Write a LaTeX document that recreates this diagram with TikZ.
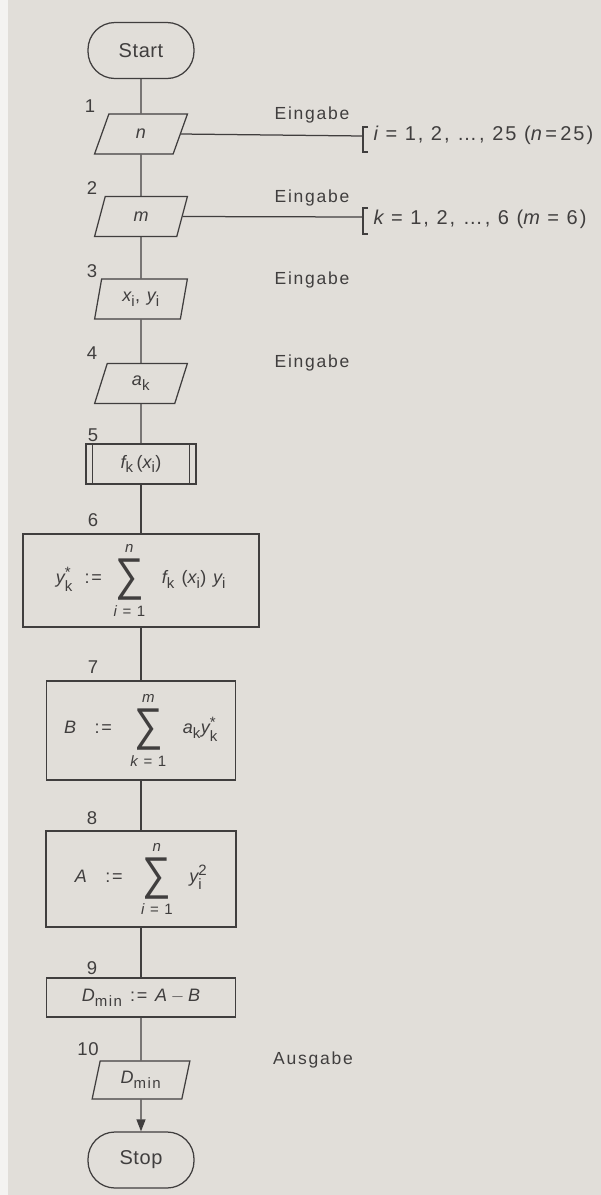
\documentclass[tikz,border=0pt]{standalone}
\usepackage{amsmath}
\usepackage{graphicx}
\usepackage{fontspec}
\setmainfont{Liberation Sans}[LetterSpace=10]
\newfontfamily\tightfont{Liberation Sans}[LetterSpace=3]
\newfontfamily\sigmafont{Liberation Sans}
\usetikzlibrary{shapes.geometric,arrows.meta}
\DeclareMathSizes{18}{18}{15}{12}

\definecolor{paper}{RGB}{225,222,217}
\definecolor{margin}{RGB}{244,243,241}
\definecolor{ink}{RGB}{64,62,62}

% italic variable, upright index, large summation sign with room for its limits
\newcommand\vv[1]{\text{\itshape #1}}
\newcommand\up[1]{\text{#1}}
\newcommand\bigsum{\mathop{\vcenter{\hbox{\raisebox{0pt}[\dimexpr\height+3pt\relax][\dimexpr\depth+2pt\relax]{%
  \scalebox{1}[1.15]{\sigmafont\fontsize{40}{40}\selectfont ∑}}}}}\limits}

\tikzset{
  base/.style={font=\fontsize{18}{22}\selectfont, text=ink},
  terminal/.style={base, draw=ink, line width=1.25pt, rectangle, rounded corners=27pt,
    minimum width=106pt, minimum height=56pt, inner sep=0pt,
    font=\tightfont\fontsize{20}{24}\selectfont},
  iobox/.style={base, draw=ink, line width=1.25pt, trapezium, trapezium left angle=77,
    trapezium right angle=103, trapezium stretches=true,
    minimum width=93pt, minimum height=40pt, inner sep=0pt},
  procbox/.style={base, draw=ink, line width=1.25pt, rectangle, inner sep=0pt},
  stepno/.style={base, font=\tightfont\fontsize{18.5}{22}\selectfont},
  remark/.style={base, font=\fontsize{17.5}{21}\selectfont},
  flow/.style={draw=ink, line width=1.25pt},
}

\begin{document}
\begin{tikzpicture}[x=1pt,y=-1pt]
\useasboundingbox (0,0) rectangle (601,1195);
\fill[paper] (0,0) rectangle (601,1195);
\fill[margin] (0,0) rectangle (8,1195);

% flowchart boxes
\node[terminal] (start) at (141,50.5) {Start};
\node[iobox] (n1) at (141,134) {$\vv{n}$};
\node[iobox] (n2) at (141,216.5) {$\vv{m}$};
\node[iobox] (n3) at (141,299) {$\vv{x}_{\up{i}}\text{, }\vv{y}_{\up{i}}$};
\node[iobox] (n4) at (141,383.5) {$\vv{a}_{\up{k}}$};
\node[procbox, minimum width=110pt, minimum height=40pt] (n5) at (141,464)
  {$\vv{f}_{\up{k}}\,\text{(}\vv{x}_{\up{i}}\text{)}$};
\node[procbox, minimum width=236pt, minimum height=93pt] (n6) at (141,580.5)
  {$\vv{y}^{\text{*}}_{\up{k}}\ \mathrel{\text{:=}}\ \bigsum^{\vv{n}}_{\text{\itshape i\upshape\ = 1}}
   \ \ \vv{f}_{\up{k}}\ \text{(}\vv{x}_{\up{i}}\text{)}\ \vv{y}_{\up{i}}$};
\node[procbox, minimum width=189pt, minimum height=99pt] (n7) at (141,730.5)
  {$\vv{B}\ \ \mathrel{\text{:=}}\ \ \bigsum^{\vv{m}}_{\text{\itshape k\upshape\ = 1}}
   \ \ \vv{a}_{\up{k}}\vv{y}^{\text{*}}_{\up{k}}$};
\node[procbox, minimum width=190pt, minimum height=96pt] (n8) at (141,879)
  {$\vv{A}\ \ \mathrel{\text{:=}}\ \ \bigsum^{\vv{n}}_{\text{\itshape i\upshape\ = 1}}
   \ \ \vv{y}^{\text{2}}_{\up{i}}$};
\node[procbox, minimum width=189pt, minimum height=39pt] (n9) at (141,997.5)
  {$\vv{D}_{\up{min}}\,\mathrel{\text{:=}}\,\vv{A} - \vv{B}$};
\node[iobox, minimum width=98pt, minimum height=38pt] (n10) at (141,1080) {$\vv{D}_{\up{min}}$};
\node[terminal] (stop) at (141,1160) {Stop};

% double side bars of the subroutine box
\draw[flow] ([xshift=7pt]n5.north west) -- ([xshift=7pt]n5.south west);
\draw[flow] ([xshift=-7pt]n5.north east) -- ([xshift=-7pt]n5.south east);

% step numbers
\node[stepno] at (90,106) {1};
\node[stepno] at (92,188) {2};
\node[stepno] at (92,271) {3};
\node[stepno] at (92,353) {4};
\node[stepno] at (93,435) {5};
\node[stepno] at (93,520) {6};
\node[stepno] at (93,667) {7};
\node[stepno] at (92,818) {8};
\node[stepno] at (92,968) {9};
\node[stepno] at (88,1049) {10};

% main flow
\draw[flow] (start) -- (n1);
\draw[flow] (n1) -- (n2);
\draw[flow] (n2) -- (n3);
\draw[flow] (n3) -- (n4);
\draw[flow] (n4) -- (n5);
\draw[flow] (n5) -- (n6);
\draw[flow] (n6) -- (n7);
\draw[flow] (n7) -- (n8);
\draw[flow] (n8) -- (n9);
\draw[flow] (n9) -- (n10);
\draw[flow, -{Triangle[length=12pt,width=9pt]}] (n10) -- (stop);

% comments on the input and output steps
\node[remark] (e1) at (312,115) {Eingabe};
\node[remark] (e2) at (312,198) {Eingabe};
\node[remark] (e3) at (312,280) {Eingabe};
\node[remark] (e4) at (312,363) {Eingabe};
\node[remark] (a10) at (313,1060) {Ausgabe};

\coordinate (b1) at (363,136);
\coordinate (b2) at (363,217);
\draw[flow] (n1.east) -- (b1);
\draw[flow] (n2.east) -- (b2);
\draw[flow] ([shift={(5,-9)}]b1) -| ([shift={(0,16)}]b1) -- ++(5,0);
\draw[flow] ([shift={(5,-9)}]b2) -| ([shift={(0,17)}]b2) -- ++(5,0);

\node[base, anchor=west, font=\fontsize{20}{24}\selectfont] (r1) at (370,135)
  {{\itshape i} = 1, 2, …, 25 ({\itshape n}\,=\,25)};
\node[base, anchor=west, font=\fontsize{20}{24}\selectfont] (r2) at (370,219)
  {{\itshape k} = 1, 2, …, 6 ({\itshape m} = 6)};
\end{tikzpicture}
\end{document}
